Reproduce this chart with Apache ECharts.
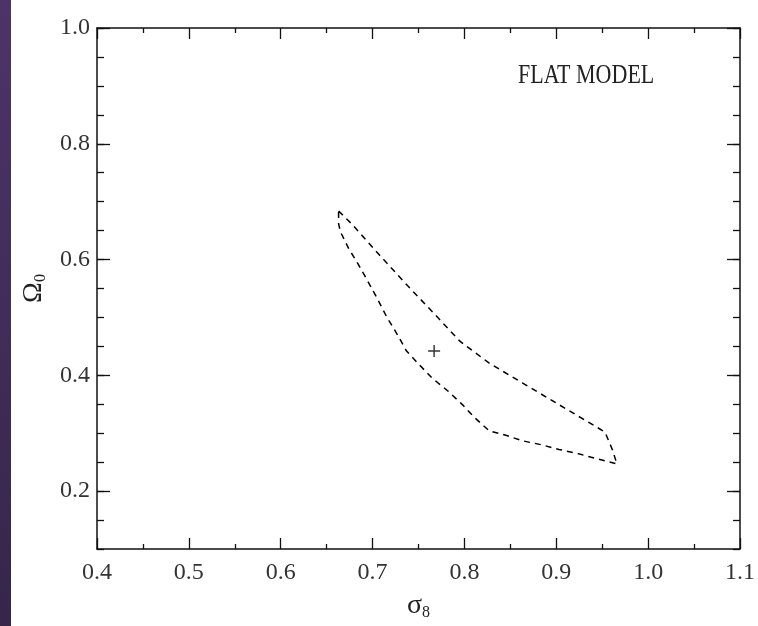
<!DOCTYPE html>
<html>
<head>
<meta charset="utf-8">
<script src="https://cdn.jsdelivr.net/npm/echarts@6/dist/echarts.min.js"></script>
<style>html,body{margin:0;padding:0;background:#fff}#c{width:758px;height:626px}</style>
</head>
<body>
<div id="c"></div>
<script>
// ---- data ----
const xMajorTicks = [0.4, 0.5, 0.6, 0.7, 0.8, 0.9, 1.0, 1.1];
const yLabelTicks = [0.2, 0.4, 0.6, 0.8, 1.0];
const contourSigma8 = [0.663, 0.677, 0.708, 0.738, 0.765, 0.795, 0.827, 0.863, 0.898, 0.933, 0.953, 0.961, 0.966,
  0.944, 0.923, 0.903, 0.884, 0.863, 0.846, 0.827, 0.811, 0.798, 0.782, 0.765, 0.751, 0.737, 0.726, 0.715, 0.705, 0.695, 0.684, 0.674, 0.665, 0.663, 0.663];
const contourOmega0 = [0.684, 0.662, 0.607, 0.555, 0.510, 0.459, 0.421, 0.387, 0.354, 0.321, 0.302, 0.272, 0.247,
  0.256, 0.265, 0.272, 0.280, 0.287, 0.296, 0.304, 0.327, 0.349, 0.373, 0.395, 0.418, 0.442, 0.473, 0.502, 0.533, 0.562, 0.593, 0.619, 0.648, 0.662, 0.684];
const bestSigma8 = [0.767];
const bestOmega0 = [0.442];
const annotation = 'FLAT MODEL';

const contourData = contourSigma8.map((s, i) => [s, contourOmega0[i]]);
const bestData = bestSigma8.map((s, i) => [s, bestOmega0[i]]);

const font = 'Liberation Serif';
const chart = echarts.init(document.getElementById('c'), null, {renderer: 'canvas'});

function xAxis(pos, labels) {
  return {
    type: 'value', position: pos, min: 0.4, max: 1.1, interval: 0.1,
    axisLine: {show: true, onZero: false, lineStyle: {color: '#111', width: 1.5}},
    axisTick: {show: true, inside: true, length: 11, lineStyle: {color: '#111', width: 1.3}},
    minorTick: {show: true, splitNumber: 2, length: 5, lineStyle: {color: '#111', width: 1.3}},
    splitLine: {show: false},
    axisLabel: labels ? {show: true, margin: 12, fontFamily: font, fontSize: 24, color: '#333',
      customValues: xMajorTicks, formatter: v => v.toFixed(1)} : {show: false},
    name: labels ? '{s|σ}{sub|8}' : '', nameLocation: 'middle', nameGap: 42,
    nameTextStyle: {rich: {
      s: {fontFamily: font, fontSize: 28, color: '#222'},
      sub: {fontFamily: font, fontSize: 16, color: '#222', padding: [14, 0, 0, 0]}
    }}
  };
}
function yMinor(pos, labels) {
  return {
    type: 'value', position: pos, min: 0.1, max: 1.0, interval: 0.05,
    axisLine: {show: true, onZero: false, lineStyle: {color: '#111', width: 1.5}},
    axisTick: {show: true, inside: true, length: 7, lineStyle: {color: '#111', width: 1.3}},
    splitLine: {show: false},
    axisLabel: labels ? {show: true, margin: 7, fontFamily: font, fontSize: 24, color: '#333',
      customValues: yLabelTicks, formatter: v => v.toFixed(1)} : {show: false},
    name: labels ? '{s|Ω}{sub|0}' : '', nameLocation: 'middle', nameGap: 48, nameRotate: 90,
    nameTextStyle: {rich: {
      s: {fontFamily: font, fontSize: 28, color: '#222'},
      sub: {fontFamily: font, fontSize: 16, color: '#222', padding: [14, 0, 0, 0]}
    }}
  };
}
function yMajor(pos) {
  return {
    type: 'value', position: pos, min: 0.1, max: 1.0, interval: 0.05,
    axisLine: {show: false, onZero: false},
    axisTick: {show: true, inside: true, length: 13, customValues: yLabelTicks, lineStyle: {color: '#111', width: 1.3}},
    splitLine: {show: false},
    axisLabel: {show: false}
  };
}

chart.setOption({
  backgroundColor: '#ffffff',
  animation: false,
  grid: {left: 97, top: 28, right: 17, bottom: 73, containLabel: false},
  xAxis: [xAxis('bottom', true), xAxis('top', false)],
  yAxis: [yMinor('left', true), yMajor('left'), yMinor('right', false), yMajor('right')],
  graphic: [
    {type: 'rect', left: 0, top: 0, shape: {width: 11, height: 626}, silent: true,
      style: {fill: new echarts.graphic.LinearGradient(0, 0, 0, 1, [
        {offset: 0, color: '#4d3468'}, {offset: 1, color: '#35264a'}])}},
    {type: 'text', x: 518, y: 76, scaleY: 1.2, silent: true,
      style: {text: annotation, fontFamily: font, fontSize: 22, fill: '#222', align: 'left', verticalAlign: 'middle'}}
  ],
  series: [
    {type: 'line', xAxisIndex: 0, yAxisIndex: 0, data: contourData, showSymbol: false, smooth: false,
      lineStyle: {color: '#000', width: 1.5, type: [6, 5]}},
    {type: 'scatter', xAxisIndex: 0, yAxisIndex: 0, data: bestData, symbolSize: 12,
      symbol: 'path://M0,4.4h10v1.2h-10z M4.4,0h1.2v10h-1.2z', itemStyle: {color: '#000'}}
  ]
});
</script>
</body>
</html>
